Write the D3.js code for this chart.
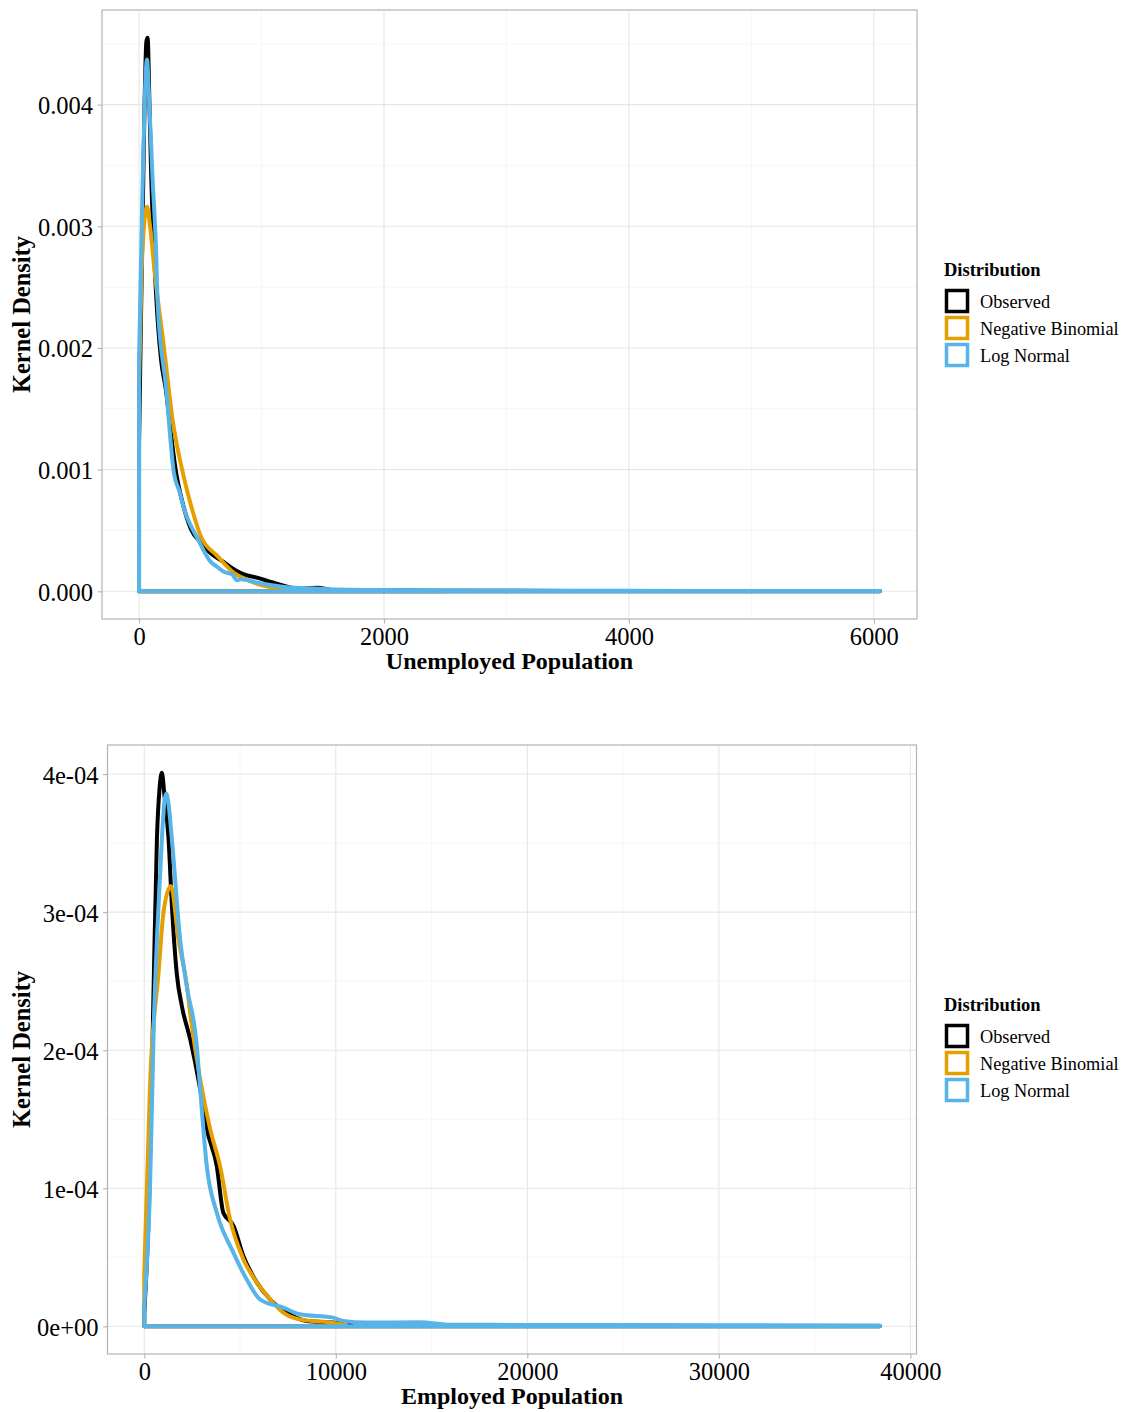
<!DOCTYPE html>
<html>
<head>
<meta charset="utf-8">
<title>Kernel Density</title>
<style>
body { margin: 0; background: #fff; }
text { font-family: "Liberation Serif", "Times New Roman", serif; fill: #000; }
</style>
</head>
<body>
<script src="https://cdn.jsdelivr.net/npm/d3@7/dist/d3.min.js"></script>
<script>
// legend entries and colours
var seriesNames = ["Observed", "Negative Binomial", "Log Normal"];
var seriesColors = ["#000000", "#E69F00", "#56B4E9"];

// unemployed population: [value, density]
var unempObserved = [
  [0, 0.0012], [15, 0.0022], [30, 0.0031], [45, 0.0040], [60, 0.00452], [70, 0.00455],
  [85, 0.0040], [100, 0.0034], [122, 0.0028], [152, 0.00223], [180, 0.0019], [220, 0.00165],
  [260, 0.0013], [302, 0.00098], [350, 0.00075], [424, 0.00051], [505, 0.0004], [600, 0.0003],
  [693, 0.00024], [760, 0.00019], [831, 0.00015], [970, 0.00011], [1133, 0.00006],
  [1300, 0.00002], [1450, 0.00003], [1600, 0.00001], [2000, 0.00001], [2500, 0.000005],
  [3000, 0.000004], [4000, 0.000003], [5000, 0.000002], [6050, 0.000001]
];
var unempNegBin = [
  [0, 0.0017], [20, 0.0026], [40, 0.0030], [65, 0.00316], [90, 0.0030], [130, 0.0026],
  [204, 0.0020], [274, 0.00141], [370, 0.00092], [440, 0.00065], [505, 0.00045],
  [640, 0.00029], [777, 0.00015], [870, 0.0001], [970, 0.00006], [1100, 0.00003],
  [1400, 0.00001], [2000, 0.000002], [2500, 0.0000005]
];
var unempLogNormal = [
  [0, 0.0019], [22, 0.0030], [45, 0.0040], [65, 0.00437], [80, 0.0041], [110, 0.0034],
  [139, 0.0028], [152, 0.00237], [220, 0.00168], [285, 0.00097], [330, 0.00082],
  [370, 0.00067], [480, 0.00043], [587, 0.00024], [640, 0.0002], [693, 0.00016],
  [760, 0.00014], [800, 0.00009], [831, 0.0001], [970, 0.00007], [1157, 0.00004],
  [1500, 0.00002], [2000, 0.00001], [3000, 0.000006], [4000, 0.000004], [5000, 0.000003],
  [6050, 0.000002]
];

// employed population: [value, density]
var empObserved = [
  [0, 0.00001], [250, 0.00009], [486, 0.000244], [660, 0.000353], [800, 0.00039],
  [920, 0.000401], [1050, 0.000385], [1267, 0.000353], [1441, 0.000305], [1700, 0.000255],
  [1962, 0.000232], [2396, 0.000208], [2917, 0.000172], [3264, 0.000143], [3785, 0.000116],
  [4132, 0.000082], [4653, 0.000073], [5174, 0.000051], [5868, 0.000032], [6563, 0.0000196],
  [7431, 0.00001], [8472, 0.0000039], [9861, 0.0000027], [11000, 0.000001], [15000, 0.0000008],
  [20000, 0.0000005], [30000, 0.0000003], [38400, 0.0000002]
];
var empNegBin = [
  [0, 0.000039], [312, 0.000179], [745, 0.000256], [1005, 0.0003], [1389, 0.000319],
  [1788, 0.00028], [2222, 0.000247], [2396, 0.000227], [2917, 0.000179], [3438, 0.000143],
  [3958, 0.000116], [4479, 0.0000775], [5174, 0.0000486], [5868, 0.000032], [6563, 0.0000196],
  [7257, 0.0000099], [8125, 0.000005], [9861, 0.0000025], [10556, 0.000001]
];
var empLogNormal = [
  [0, 0.000015], [300, 0.0001], [500, 0.00022], [693, 0.00029], [920, 0.000353],
  [1050, 0.00038], [1146, 0.000386], [1250, 0.00038], [1441, 0.000353], [1875, 0.00028],
  [2222, 0.000246], [2743, 0.000203], [2917, 0.000172], [3264, 0.000116], [3785, 0.0000824],
  [4653, 0.0000534], [5347, 0.000034], [6042, 0.0000196], [7257, 0.0000135], [8125, 0.0000087],
  [9861, 0.0000063], [10382, 0.0000039], [11597, 0.0000027], [14375, 0.000003],
  [16000, 0.0000012], [20000, 0.000001], [30000, 0.0000008], [38400, 0.0000006]
];

// axis ticks
var unempXTicks = [0, 2000, 4000, 6000];
var unempYTicks = [0, 0.001, 0.002, 0.003, 0.004];
var unempYLabels = ["0.000", "0.001", "0.002", "0.003", "0.004"];
var empXTicks = [0, 10000, 20000, 30000, 40000];
var empYTicks = [0, 0.0001, 0.0002, 0.0003, 0.0004];
var empYLabels = ["0e+00", "1e-04", "2e-04", "3e-04", "4e-04"];

var svg = d3.select("body").append("svg")
  .attr("width", 1124)
  .attr("height", 1412);

function midpoints(ticks, domain) {
  var step = ticks[1] - ticks[0];
  var out = [];
  for (var v = ticks[0] - step / 2; v <= domain[1]; v += step) {
    if (v >= domain[0]) out.push(v);
  }
  return out;
}

function drawPanel(p) {
  var all = d3.merge(p.series);
  var xExt = d3.extent(all, function(d) { return d[0]; });
  var yMax = d3.max(all, function(d) { return d[1]; });
  var xPad = (xExt[1] - xExt[0]) * 0.05, yPad = yMax * 0.05;

  var x = d3.scaleLinear().domain([xExt[0] - xPad, xExt[1] + xPad]).range([p.left, p.right]);
  var y = d3.scaleLinear().domain([-yPad, yMax + yPad]).range([p.bottom, p.top]);

  var g = svg.append("g");

  // grid
  g.selectAll(".xminor").data(midpoints(p.xTicks, x.domain())).enter().append("line")
    .attr("x1", function(d) { return x(d); }).attr("x2", function(d) { return x(d); })
    .attr("y1", p.top).attr("y2", p.bottom)
    .attr("stroke", "#f2f2f2").attr("stroke-width", 0.7);
  g.selectAll(".yminor").data(midpoints(p.yTicks, y.domain())).enter().append("line")
    .attr("x1", p.left).attr("x2", p.right)
    .attr("y1", function(d) { return y(d); }).attr("y2", function(d) { return y(d); })
    .attr("stroke", "#f2f2f2").attr("stroke-width", 0.7);
  g.selectAll(".xmajor").data(p.xTicks).enter().append("line")
    .attr("x1", function(d) { return x(d); }).attr("x2", function(d) { return x(d); })
    .attr("y1", p.top).attr("y2", p.bottom)
    .attr("stroke", "#e6e6e6").attr("stroke-width", 1.1);
  g.selectAll(".ymajor").data(p.yTicks).enter().append("line")
    .attr("x1", p.left).attr("x2", p.right)
    .attr("y1", function(d) { return y(d); }).attr("y2", function(d) { return y(d); })
    .attr("stroke", "#e6e6e6").attr("stroke-width", 1.1);

  // density outlines (closed like geom_density)
  var line = d3.line()
    .x(function(d) { return x(d[0]); })
    .y(function(d) { return y(d[1]); })
    .curve(d3.curveMonotoneX);
  p.series.forEach(function(s, i) {
    var first = s[0][0], last = s[s.length - 1][0];
    var d = "M" + x(first) + "," + y(0) + "L" + line(s).slice(1) +
      "L" + x(last) + "," + y(0) + "Z";
    g.append("path")
      .attr("d", d)
      .attr("fill", "none")
      .attr("stroke", seriesColors[i])
      .attr("stroke-width", 4)
      .attr("stroke-linejoin", "round");
  });

  // border
  g.append("rect")
    .attr("x", p.left).attr("y", p.top)
    .attr("width", p.right - p.left).attr("height", p.bottom - p.top)
    .attr("fill", "none").attr("stroke", "#b3b3b3").attr("stroke-width", 1.2);

  // axes
  var xAxis = g.append("g").attr("transform", "translate(0," + p.bottom + ")")
    .call(d3.axisBottom(x).tickValues(p.xTicks).tickSize(4.5).tickPadding(4)
      .tickFormat(d3.format("d")));
  var yAxis = g.append("g").attr("transform", "translate(" + p.left + ",0)")
    .call(d3.axisLeft(y).tickValues(p.yTicks).tickSize(4.5).tickPadding(4)
      .tickFormat(function(d, i) { return p.yLabels[i]; }));
  [xAxis, yAxis].forEach(function(a) {
    a.select(".domain").remove();
    a.selectAll(".tick line").attr("stroke", "#b3b3b3").attr("stroke-width", 1.1);
    a.selectAll(".tick text")
      .attr("font-family", "Liberation Serif, Times New Roman, serif")
      .attr("font-size", 24.5).attr("fill", "#000");
  });
  xAxis.selectAll(".tick text").attr("dy", null).attr("y", 25.5);
  yAxis.selectAll(".tick text").attr("dy", null).attr("y", 9).attr("x", -9);

  // titles
  g.append("text")
    .attr("x", (p.left + p.right) / 2).attr("y", p.bottom + 50)
    .attr("text-anchor", "middle").attr("font-weight", "bold").attr("font-size", 24)
    .text(p.xTitle);
  g.append("text")
    .attr("transform", "translate(30," + ((p.top + p.bottom) / 2) + ") rotate(-90)")
    .attr("text-anchor", "middle").attr("font-weight", "bold").attr("font-size", 24.5)
    .text("Kernel Density");

  // legend
  var lg = g.append("g").attr("transform", "translate(944," + p.top + ")");
  lg.append("text").attr("x", 0).attr("y", 266)
    .attr("font-weight", "bold").attr("font-size", 18.5).text("Distribution");
  seriesNames.forEach(function(name, i) {
    var cy = 291 + i * 27;
    lg.append("rect")
      .attr("x", 2.5).attr("y", cy - 10.5).attr("width", 21).attr("height", 21)
      .attr("fill", "#fff").attr("stroke", seriesColors[i]).attr("stroke-width", 3.5);
    lg.append("text").attr("x", 36).attr("y", cy + 6.5)
      .attr("font-size", 18.3).text(name);
  });
}

drawPanel({
  left: 102, right: 917, top: 10, bottom: 619,
  series: [unempObserved, unempNegBin, unempLogNormal],
  xTicks: unempXTicks, yTicks: unempYTicks, yLabels: unempYLabels,
  xTitle: "Unemployed Population"
});

drawPanel({
  left: 107.5, right: 916.5, top: 745, bottom: 1354,
  series: [empObserved, empNegBin, empLogNormal],
  xTicks: empXTicks, yTicks: empYTicks, yLabels: empYLabels,
  xTitle: "Employed Population"
});
</script>
</body>
</html>
